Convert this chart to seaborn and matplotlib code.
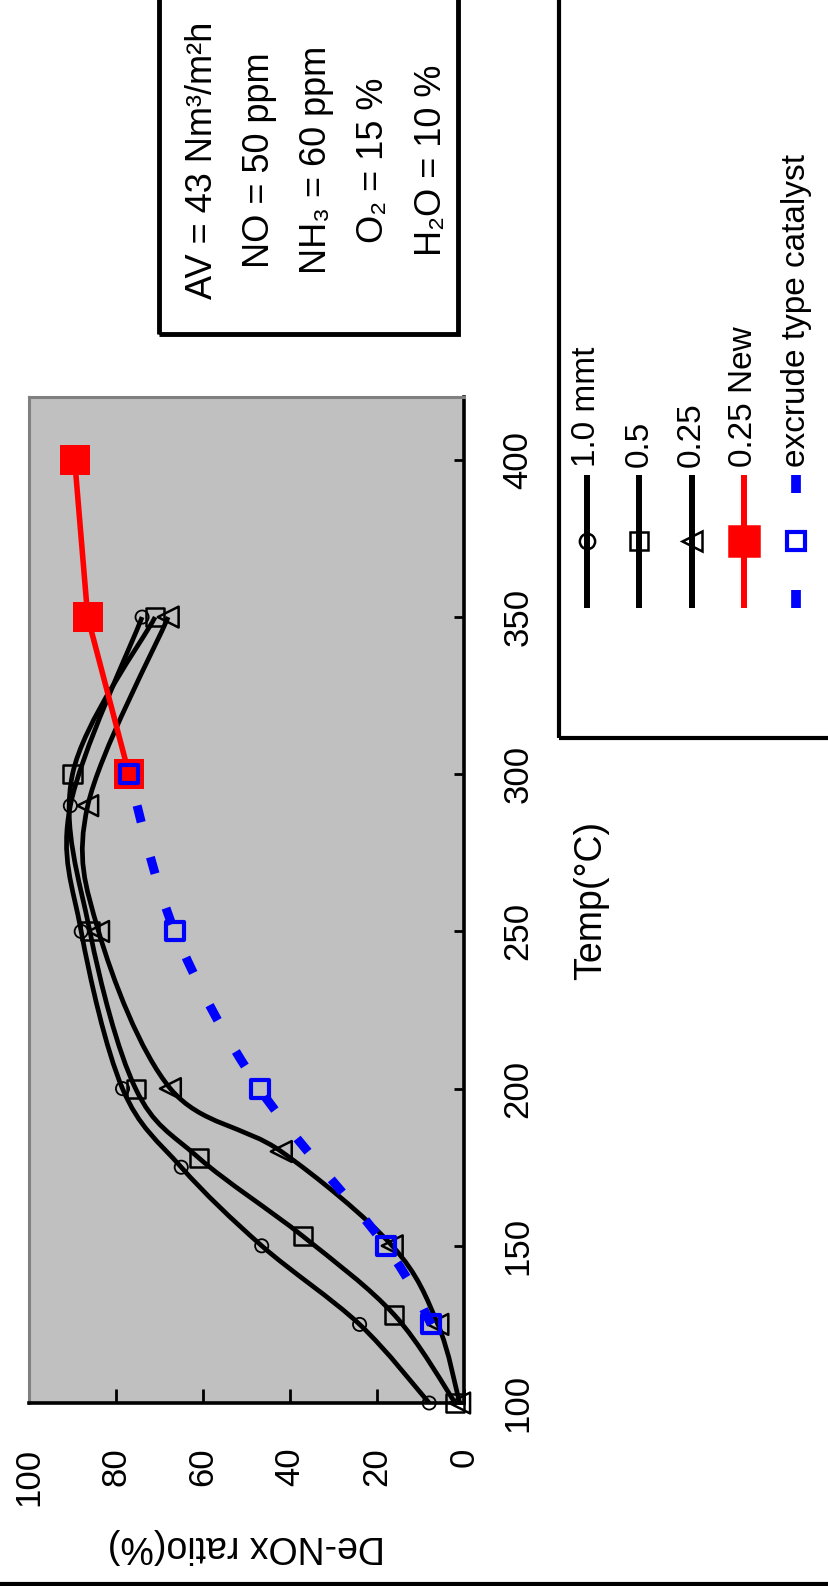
# plot.py
# De-NOx ratio vs temperature (chart drawn rotated, as in the scanned page)

import numpy as np
import matplotlib.pyplot as plt
import seaborn as sns
from matplotlib.path import Path
from matplotlib.patches import PathPatch, Rectangle
from matplotlib.lines import Line2D

# ------------------------------
# 1. Data
# ------------------------------
# temperature (deg C) and De-NOx ratio (%)
temp_10 = [100, 125, 150, 175, 200, 250, 290, 350]
ratio_10 = [8, 24, 46.5, 65, 78.5, 88, 90.5, 74]

temp_05 = [100, 128, 153, 178, 200, 250, 300, 350]
ratio_05 = [2, 16, 37, 61, 75.5, 86, 90, 71]

temp_025 = [100, 125, 150, 180, 200, 250, 290, 350]
ratio_025 = [1, 6, 16.5, 42, 67.5, 84, 86.5, 68]

temp_new = [300, 350, 400]
ratio_new = [77, 86.5, 89.5]

temp_ext = [125, 150, 200, 250, 300]
ratio_ext = [7.5, 18, 47, 66.5, 77]

series_labels = ['1.0 mmt', '0.5', '0.25', '0.25 New', 'excrude type catalyst']
ratio_ticks = [0, 20, 40, 60, 80, 100]
temp_ticks = [100, 150, 200, 250, 300, 350, 400]
conditions = ['AV = 43 Nm³/m²h', 'NO = 50 ppm', 'NH₃ = 60 ppm', 'O₂ = 15 %', 'H₂O = 10 %']


def smooth_path(xs, ys):
    # smoothed line through the points (bezier, like the spreadsheet's smoothing)
    pts = np.column_stack([xs, ys]).astype(float)
    n = len(pts)
    verts = [pts[0]]
    codes = [Path.MOVETO]
    for i in range(n - 1):
        p0 = pts[max(i - 1, 0)]
        p1 = pts[i]
        p2 = pts[i + 1]
        p3 = pts[min(i + 2, n - 1)]
        verts += [p1 + (p2 - p0) / 6, p2 - (p3 - p1) / 6, p2]
        codes += [Path.CURVE4] * 3
    return Path(verts, codes)


# ------------------------------
# 2. Figure setup
# ------------------------------
sns.set_theme(style='white')
plt.rcParams['font.family'] = ['Liberation Sans', 'DejaVu Sans']
plt.rcParams['text.color'] = 'black'
plt.rcParams['axes.labelcolor'] = 'black'

W, H = 829, 1586
fig = plt.figure(figsize=(W / 100, H / 100), dpi=100)


def fx(px):
    return px / W


def fy(py):
    return 1 - py / H


ax = fig.add_axes([fx(29), fy(1403), (464 - 29) / W, (1403 - 397) / H])
ax.set_facecolor('#c0c0c0')

# ------------------------------
# 3. Series
# ------------------------------
black_series = [
    (ratio_10, temp_10, 'o', 9.5, 1.3),
    (ratio_05, temp_05, 's', 13, 1.8),
    (ratio_025, temp_025, '<', 15, 1.8),
]
for r, t, mk, ms, mew in black_series:
    ax.add_patch(PathPatch(smooth_path(r, t), fc='none', ec='black', lw=3.4, zorder=2))
    sns.scatterplot(x=r, y=t, marker=mk, s=ms ** 2, color='black', facecolor='none',
                    edgecolor='black', linewidth=mew, ax=ax, zorder=3, clip_on=False)

# 0.25 New (red)
sns.lineplot(x=ratio_new, y=temp_new, sort=False, color='red', lw=4, ax=ax, zorder=4)
sns.scatterplot(x=ratio_new, y=temp_new, marker='s', s=21 ** 2, color='red',
                edgecolor='red', linewidth=0, ax=ax, zorder=5, clip_on=False)

# excrude type catalyst (blue dashed)
ax.add_patch(PathPatch(smooth_path(ratio_ext, temp_ext), fc='none', ec='blue', lw=6.5,
                       ls=(0, (1.9, 4.0)), capstyle='butt', zorder=6))
sns.scatterplot(x=ratio_ext, y=temp_ext, marker='s', s=13 ** 2, color='blue', facecolor='none',
                edgecolor='blue', linewidth=3, ax=ax, zorder=7, clip_on=False)

# ------------------------------
# 4. Axes
# ------------------------------
ax.set_xlim(100, 0)
ax.set_ylim(100, 420)
ax.set_xticks(ratio_ticks)
ax.set_xticklabels([str(v) for v in ratio_ticks], rotation=90)
ax.yaxis.tick_right()
ax.yaxis.set_label_position('right')
ax.set_yticks(temp_ticks)
ax.set_yticklabels([str(v) for v in temp_ticks], rotation=90, va='center')
ax.tick_params(axis='x', direction='in', length=10, width=2, labelsize=25, pad=32,
               color='black', labelcolor='black', bottom=True, top=False)
ax.tick_params(axis='y', direction='in', length=7, width=2, labelsize=25, pad=27,
               color='black', labelcolor='black', right=True, left=False)

for side in ['left', 'top']:
    ax.spines[side].set_color('#808080')
    ax.spines[side].set_linewidth(2.2)
for side in ['right', 'bottom']:
    ax.spines[side].set_color('black')
    ax.spines[side].set_linewidth(2.6)

ax.set_xlabel('De-NOx ratio(%)', fontsize=27, rotation=180, labelpad=16)
ax.set_ylabel('Temp(°C)', fontsize=27, labelpad=28)

# ------------------------------
# 5. Legend (drawn by hand, rotated)
# ------------------------------
fig.add_artist(Rectangle((fx(559), fy(738)), 1, 1, transform=fig.transFigure,
                         fill=False, ec='black', lw=3))
legend_styles = [
    ('black', 'o', 11, 'none'),
    ('black', 's', 13, 'none'),
    ('black', '<', 15, 'none'),
    ('red', 's', 21, 'red'),
    ('blue', 's', 13, 'none'),
]
for i, (label, (col, mk, ms, mfc)) in enumerate(zip(series_labels, legend_styles)):
    x = 587 + 52.3 * i
    if col == 'blue':
        for y0, y1 in [(475, 493), (590, 608)]:
            fig.add_artist(Line2D([fx(x), fx(x)], [fy(y0), fy(y1)], color=col, lw=7,
                                  solid_capstyle='butt', transform=fig.transFigure))
        mew = 3
    else:
        fig.add_artist(Line2D([fx(x), fx(x)], [fy(475), fy(608)], color=col, lw=4.3,
                              solid_capstyle='butt', transform=fig.transFigure))
        mew = 1.8
    fig.add_artist(Line2D([fx(x)], [fy(541)], marker=mk, ms=ms, mfc=mfc, mec=col, mew=mew,
                          ls='none', transform=fig.transFigure))
    fig.text(fx(x), fy(467), label, rotation=90, ha='center', va='bottom', fontsize=24)

# ------------------------------
# 6. Test conditions box
# ------------------------------
fig.add_artist(Rectangle((fx(159), fy(334)), (458 - 159) / W, 1, transform=fig.transFigure,
                         fill=False, ec='black', lw=3.5))
for i, line in enumerate(conditions):
    fig.text(fx(203 + 57 * i), fy(160), line, rotation=90, ha='center', va='center', fontsize=26)

# page border at the bottom
fig.add_artist(Line2D([0, 1], [fy(1584), fy(1584)], color='black', lw=3, transform=fig.transFigure))

fig.savefig('out.png', dpi=100)
